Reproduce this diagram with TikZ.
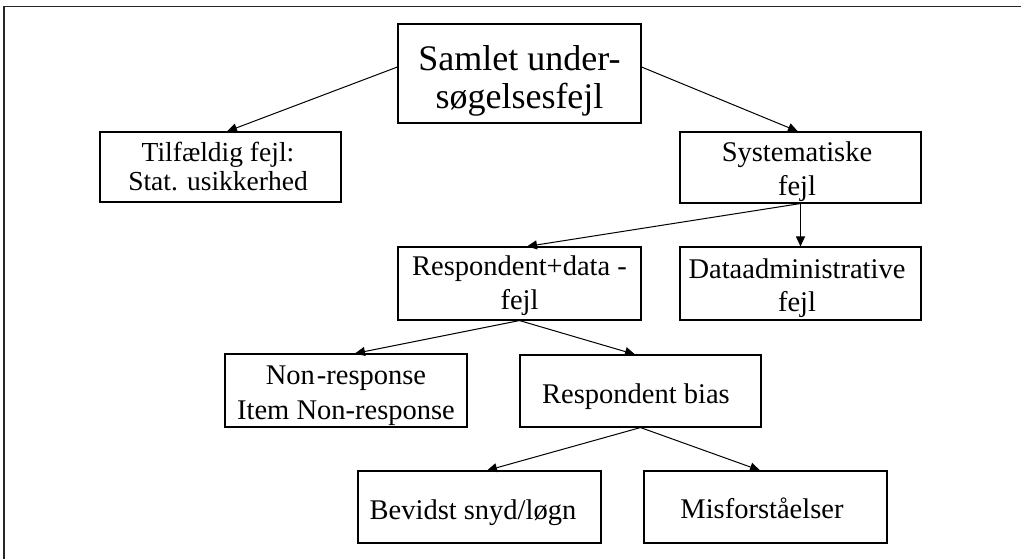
\documentclass[tikz,border=0pt]{standalone}
\usepackage{fontspec}
\setmainfont{Liberation Serif}
\usetikzlibrary{arrows.meta,calc}
\begin{document}
\begin{tikzpicture}[x=1pt,y=-1pt,
  box/.style={draw=black,line width=1.1pt,fill=white,inner sep=0pt},
  txt/.style={anchor=base,inner sep=0pt,font=\fontsize{28.5}{30}\selectfont},
  bigtxt/.style={anchor=base,inner sep=0pt,font=\fontsize{36}{38}\selectfont},
  arr/.style={line width=1pt,-{Triangle[length=10pt,width=9pt]}},
  frame/.style={line width=1.6pt,draw=black!85}]
\useasboundingbox (0,0) rectangle (1021,559);
\coordinate (fa) at (4,559);
\coordinate (fb) at (4,6.5);
\coordinate (fc) at (1021,6.5);
\draw[frame] (fa) -- (fb) -- (fc);
% boxes
\node[box,minimum width=243,minimum height=99] (top) at (519.5,73.5) {};
\node[box,minimum width=241,minimum height=70] (tf) at (220.5,167) {};
\node[box,minimum width=241,minimum height=71] (sys) at (800.5,167.5) {};
\node[box,minimum width=243,minimum height=73] (rd) at (519.5,283.5) {};
\node[box,minimum width=241,minimum height=73] (da) at (800.5,283.5) {};
\node[box,minimum width=242,minimum height=73] (nr) at (346,390.5) {};
\node[box,minimum width=241,minimum height=72] (rb) at (640.5,391) {};
\node[box,minimum width=243,minimum height=72] (bs) at (479.5,507) {};
\node[box,minimum width=243,minimum height=72] (mf) at (765.5,507) {};
% texts
\node[bigtxt] (topA) at (519.5,71) {Samlet under-};
\node[bigtxt] (topB) at (519.5,109) {søgelsesfejl};
\node[txt,font=\fontsize{27.5}{30}\selectfont] (tfA) at (218,162) {Tilfældig fejl:};
\node[txt,font=\fontsize{27.5}{30}\selectfont] (tfB) at (218,190) {Stat. usikkerhed};
\node[txt] (sysA) at (797,162) {Systematiske};
\node[txt] (sysB) at (797,196) {fejl};
\node[txt] (rdA) at (519.5,276) {Respondent+data -};
\node[txt] (rdB) at (519.5,309) {fejl};
\node[txt] (daA) at (797,278) {Dataadministrative};
\node[txt] (daB) at (797,311) {fejl};
\node[txt] (nrA) at (346,384) {Non\hspace{2pt}-response};
\node[txt] (nrB) at (346,419) {Item Non-response};
\node[txt] (rbA) at (636,403) {Respondent bias};
\node[txt] (bsA) at (473,519) {Bevidst snyd/løgn};
\node[txt] (mfA) at (762,518) {Misforståelser};
% arrows
\draw[arr] ([yshift=6.5]top.west) -- ([xshift=6.5]tf.north);
\draw[arr] ([yshift=6.5]top.east) -- ([xshift=-2.5]sys.north);
\draw[arr] (sys.south) -- ([xshift=7.5]rd.north);
\draw[arr] (sys.south) -- (da.north);
\draw[arr] (rd.south) -- ([xshift=9]nr.north);
\draw[arr] (rd.south) -- ([xshift=-5.5]rb.north);
\draw[arr] (rb.south) -- ([xshift=7.5]bs.north);
\draw[arr] (rb.south) -- ([xshift=-5.5]mf.north);
\end{tikzpicture}
\end{document}
